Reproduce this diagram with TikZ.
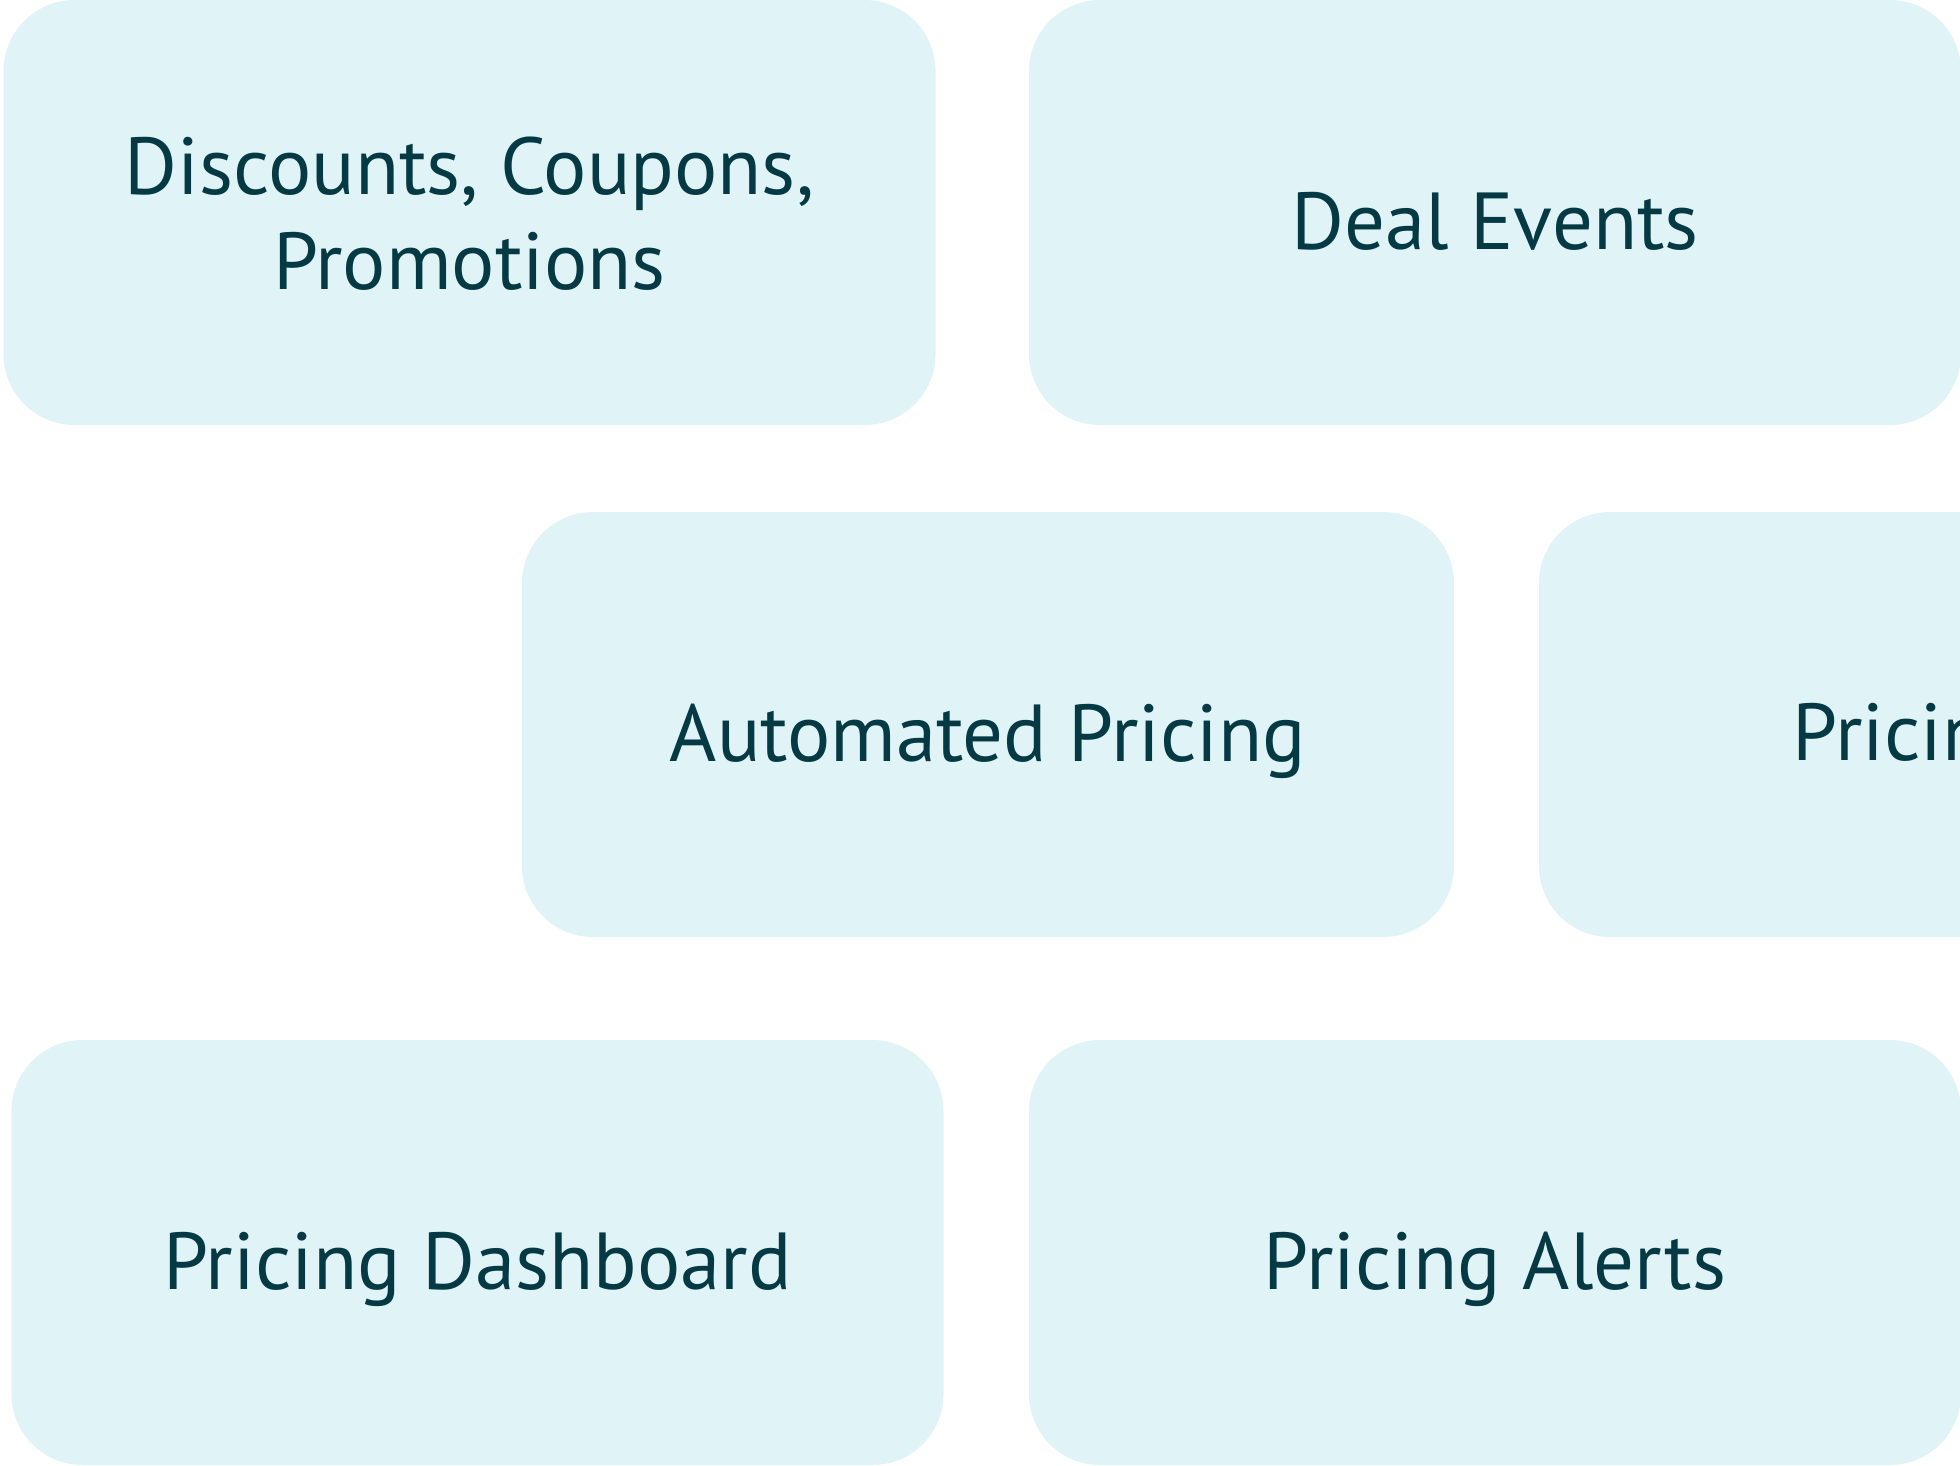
\documentclass[tikz,border=0pt]{standalone}
\usepackage{fontspec}
\setmainfont{PT Sans}
\definecolor{tilefill}{HTML}{E0F3F7}
\definecolor{tiletext}{HTML}{053A44}
\tikzset{
    tile/.style={fill=tilefill, rounded corners=0.71cm, minimum width=9.32cm,
        minimum height=4.25cm, inner sep=0pt, text=tiletext, align=center,
        text height=0.74cm, text depth=0pt,
        font=\fontsize{23}{27}\selectfont}
}
\begin{document}
\begin{tikzpicture}
            \def\width{19.6}
            \def\height{14.65}
            \clip (0,0) rectangle (\width,-\height);
            \useasboundingbox (0,0) rectangle (\width,-\height);
            % top row
            \node[tile, text height=1.54cm] (discounts) at (4.695,-2.125) {Discounts, Coupons,\\Promotions};
            \node[tile] (deals) at (14.95,-2.125) {Deal Events};
            % middle row
            \node[tile] (automated) at (9.88,-7.245) {Automated Pricing};
            \node[tile] (rightbox) at (20.05,-7.245) {};
            \node[text=tiletext, font=\fontsize{23}{27}\selectfont, anchor=base west, inner sep=0pt]
                (righttext) at (17.92,-7.6) {Pricing};
            % bottom row
            \node[tile] (dashboard) at (4.775,-12.525) {Pricing Dashboard};
            \node[tile] (alerts) at (14.95,-12.525) {Pricing Alerts};
        \end{tikzpicture}
\end{document}
